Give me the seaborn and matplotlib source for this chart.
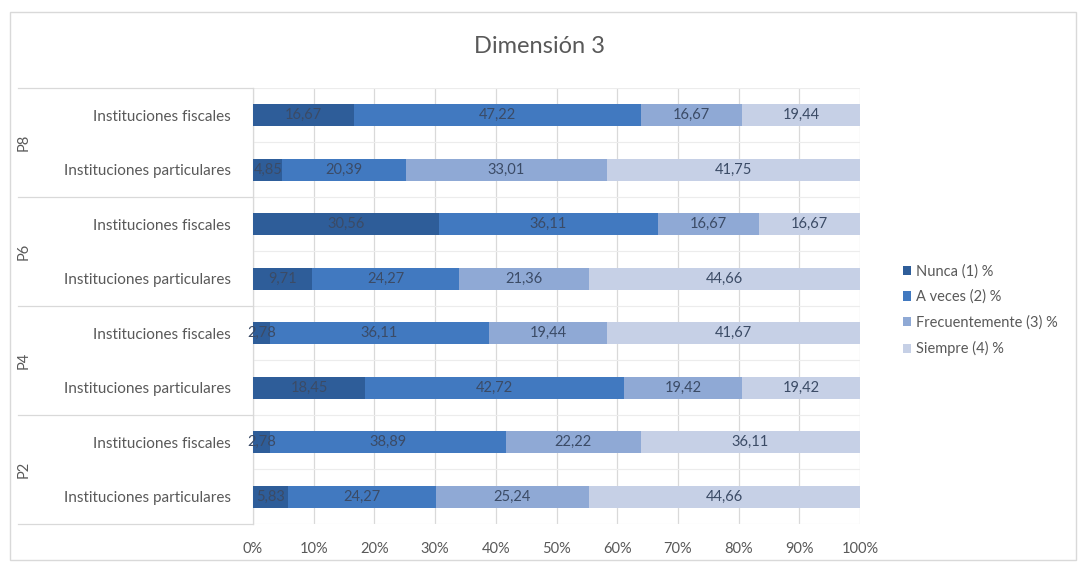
import matplotlib
matplotlib.use("Agg")
import matplotlib.pyplot as plt
from matplotlib.patches import Patch, Rectangle
from matplotlib.lines import Line2D
import seaborn as sns
import pandas as pd
import numpy as np

# Survey results, dimension 3 (percent of answers per option)
questions = ["P8", "P6", "P4", "P2"]
institutions = ["Instituciones fiscales", "Instituciones particulares"]
series = ["Nunca (1) %", "A veces (2) %", "Frecuentemente (3) %", "Siempre (4) %"]

# rows in drawing order (top to bottom): P8 fiscal, P8 particular, P6 fiscal, ...
nunca = [16.67, 4.85, 30.56, 9.71, 2.78, 18.45, 2.78, 5.83]
a_veces = [47.22, 20.39, 36.11, 24.27, 36.11, 42.72, 38.89, 24.27]
frecuentemente = [16.67, 33.01, 16.67, 21.36, 19.44, 19.42, 22.22, 25.24]
siempre = [19.44, 41.75, 16.67, 44.66, 41.67, 19.42, 36.11, 44.66]

colors = ["#2E5D99", "#4179C0", "#8FA9D5", "#C6D0E6"]
text_grey = "#595959"
label_color = "#3B4B66"

rows = [f"{q}|{inst}" for q in questions for inst in institutions]
values = np.array([nunca, a_veces, frecuentemente, siempre])
cumulative = np.cumsum(values, axis=0)

df = pd.DataFrame({"row": rows})
for i, s in enumerate(series):
    df[s] = values[i]
    df["cum_" + str(i)] = cumulative[i]

plt.rcParams["font.family"] = ["Lato", "DejaVu Sans"]
fig = plt.figure(figsize=(10.86, 5.64), dpi=100)
fig.patch.set_facecolor("white")
ax = fig.add_axes([0.233, 0.071, 0.559, 0.773])

# stacked bars: draw the cumulative totals from the outermost layer inward
for i in range(len(series) - 1, -1, -1):
    sns.barplot(data=df, y="row", x="cum_" + str(i), orient="h", color=colors[i],
                width=0.40, ax=ax, saturation=1, linewidth=0, zorder=3)

# value labels centred in each segment
for r in range(len(rows)):
    start = 0.0
    for i in range(len(series)):
        v = values[i][r]
        ax.text(start + v / 2, r, f"{v:.2f}".replace(".", ","), ha="center",
                va="center", fontsize=10.5, color=label_color, zorder=5)
        start += v

ax.set_xlim(0, 100)
ax.set_ylim(len(rows) - 0.5, -0.5)
ax.set_xticks(np.arange(0, 101, 10))
ax.set_xticklabels([f"{t}%" for t in range(0, 101, 10)], fontsize=10.5, color=text_grey)
ax.tick_params(axis="x", length=0, pad=13)
ax.set_xlabel("")
ax.set_ylabel("")
ax.set_yticks(range(len(rows)))
ax.set_yticklabels([r.split("|")[1] for r in rows], fontsize=11, color=text_grey)
ax.tick_params(axis="y", length=0, pad=16)

# gridlines
for x in range(0, 101, 10):
    ax.axvline(x, color="#D9D9D9", linewidth=0.9, zorder=1)
for y in np.arange(-0.5, len(rows), 0.5):
    ax.axhline(y, color="#ECECEC", linewidth=0.8, zorder=1)
for sp in ax.spines.values():
    sp.set_visible(False)

# outer category axis (question labels and group separators)
trans = ax.get_yaxis_transform()
x_sep_left = (18 / 1086 - 0.233) / 0.559
for g, q in enumerate(questions):
    ax.text((24 / 1086 - 0.233) / 0.559, 2 * g + 0.5, q, rotation=90, ha="center",
            va="center", fontsize=10.5, color=text_grey, transform=trans)
for b in range(0, len(rows) + 1, 2):
    ax.add_line(Line2D([x_sep_left, 0], [b - 0.5, b - 0.5], transform=trans,
                       color="#D9D9D9", linewidth=0.9, clip_on=False))
ax.add_line(Line2D([0, 0], [-0.5, len(rows) - 0.5], transform=trans,
                   color="#D9D9D9", linewidth=0.9, clip_on=False))

# title
fig.text(0.497, 0.918, "Dimensión 3", ha="center", va="center", fontsize=17,
         color=text_grey)

# legend
handles = [Patch(facecolor=c, edgecolor="none") for c in colors]
fig.legend(handles, series, loc="center left", bbox_to_anchor=(0.819, 0.45),
           frameon=False, fontsize=10.5, labelcolor=text_grey, handlelength=0.6,
           handleheight=0.6, handletextpad=0.3, labelspacing=0.78)

# chart border
fig.add_artist(Rectangle((10 / 1086, 4 / 564), 1066 / 1086, 548 / 564,
                         transform=fig.transFigure, fill=False,
                         edgecolor="#D9D9D9", linewidth=1))

fig.savefig("out.png", dpi=100)
